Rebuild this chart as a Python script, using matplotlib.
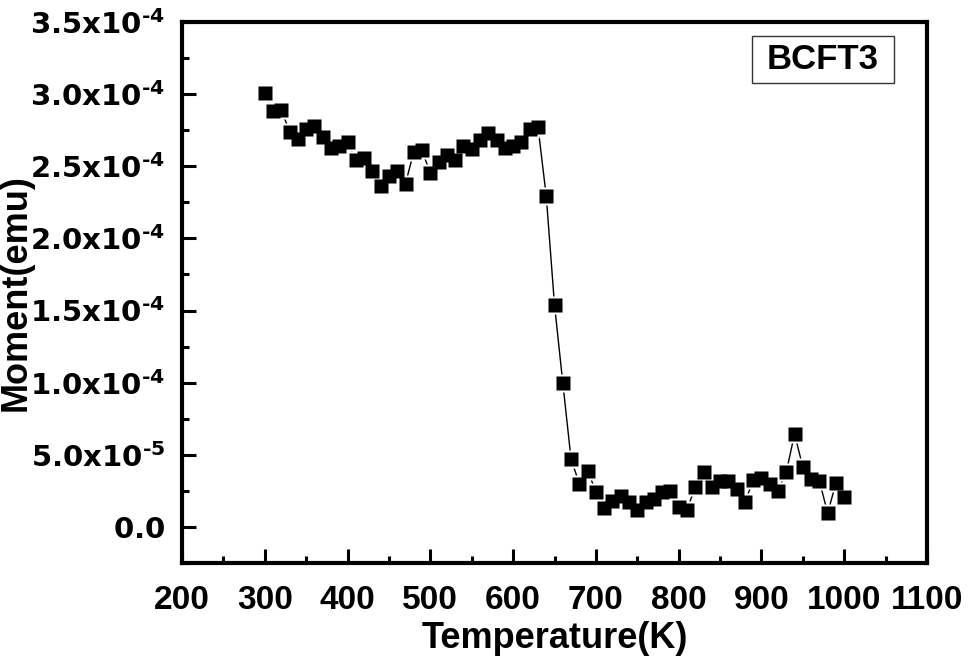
import matplotlib
matplotlib.use("Agg")
import matplotlib.pyplot as plt
from matplotlib.ticker import MultipleLocator, FuncFormatter
from matplotlib.patches import Rectangle

plt.rcParams['font.family'] = ['Liberation Sans', 'DejaVu Sans']
plt.rcParams['font.weight'] = 'bold'
plt.rcParams['mathtext.fontset'] = 'custom'
plt.rcParams['mathtext.rm'] = 'DejaVu Sans:bold'
plt.rcParams['mathtext.it'] = 'DejaVu Sans:bold'
plt.rcParams['mathtext.bf'] = 'DejaVu Sans:bold'
plt.rcParams['mathtext.default'] = 'rm'

temperature = list(range(300, 1001, 10))
moment_e4 = [
    3.01, 2.88, 2.89, 2.74, 2.69, 2.76, 2.78, 2.70, 2.63, 2.64,
    2.665, 2.545, 2.56, 2.47, 2.365, 2.43, 2.47, 2.38, 2.60, 2.61,
    2.45, 2.53, 2.58, 2.54, 2.64, 2.62, 2.68, 2.73, 2.68, 2.63,
    2.64, 2.665, 2.76, 2.775, 2.295, 1.54, 1.00, 0.47, 0.30, 0.39,
    0.245, 0.13, 0.18, 0.215, 0.17, 0.115, 0.17, 0.195, 0.24, 0.25,
    0.14, 0.115, 0.28, 0.38, 0.28, 0.315, 0.32, 0.26, 0.17, 0.325,
    0.34, 0.295, 0.25, 0.38, 0.645, 0.415, 0.33, 0.32, 0.095, 0.305,
    0.21,
]
moment = [v * 1e-4 for v in moment_e4]
sample_label = "BCFT3"
x_label = "Temperature(K)"
y_label = "Moment(emu)"

fig = plt.figure(figsize=(9.69, 6.57), dpi=100)
ax = fig.add_axes([182/969, 1-563/657, (927-182)/969, (563-22)/657])

ax.plot(temperature, moment, color='black', lw=1.0, zorder=2)
ax.plot(temperature, moment, ls='none', marker='s', ms=13, mfc='white',
        mec='none', zorder=3)
ax.plot(temperature, moment, ls='none', marker='s', ms=10, mfc='black',
        mec='none', zorder=4)

ax.set_xlim(200, 1100)
ax.set_ylim(-2.5e-5, 3.5e-4)
ax.xaxis.set_major_locator(MultipleLocator(100))
ax.xaxis.set_minor_locator(MultipleLocator(50))
ax.yaxis.set_major_locator(MultipleLocator(5e-5))
ax.yaxis.set_minor_locator(MultipleLocator(2.5e-5))

def yfmt(v, pos):
    if abs(v) < 1e-12:
        return "$0.0$"
    s = f"{v:.1e}"
    mant, exp = s.split('e')
    e = int(exp)
    es = ("\u2010" if e < 0 else "") + str(abs(e))
    return "$" + mant + "x10^{" + es + "}$"

ax.yaxis.set_major_formatter(FuncFormatter(yfmt))

for sp in ax.spines.values():
    sp.set_linewidth(3)

ax.tick_params(axis='both', which='both', direction='in', top=False, right=False)
ax.tick_params(axis='both', which='major', length=10, width=2.2)
ax.tick_params(axis='both', which='minor', length=5, width=2.2)
ax.tick_params(axis='x', which='major', labelsize=24, pad=15.5)
ax.tick_params(axis='y', which='major', labelsize=21, pad=12)
for lab in ax.get_xticklabels() + ax.get_yticklabels():
    lab.set_fontweight('bold')

ax.set_xlabel(x_label, fontsize=26, fontweight='bold', labelpad=4)
ax.set_ylabel(y_label, fontsize=26, fontweight='bold')
ax.yaxis.set_label_coords((34 - 182) / 745, 0.5)

ax.add_patch(Rectangle((0.765, 0.887), 0.191, 0.087, transform=ax.transAxes,
                       fill=False, edgecolor='#333333', lw=1.0))
ax.text(0.8605, 0.931, sample_label, transform=ax.transAxes, fontsize=25,
        fontweight='bold', ha='center', va='center')

fig.savefig("out.png", dpi=100)
